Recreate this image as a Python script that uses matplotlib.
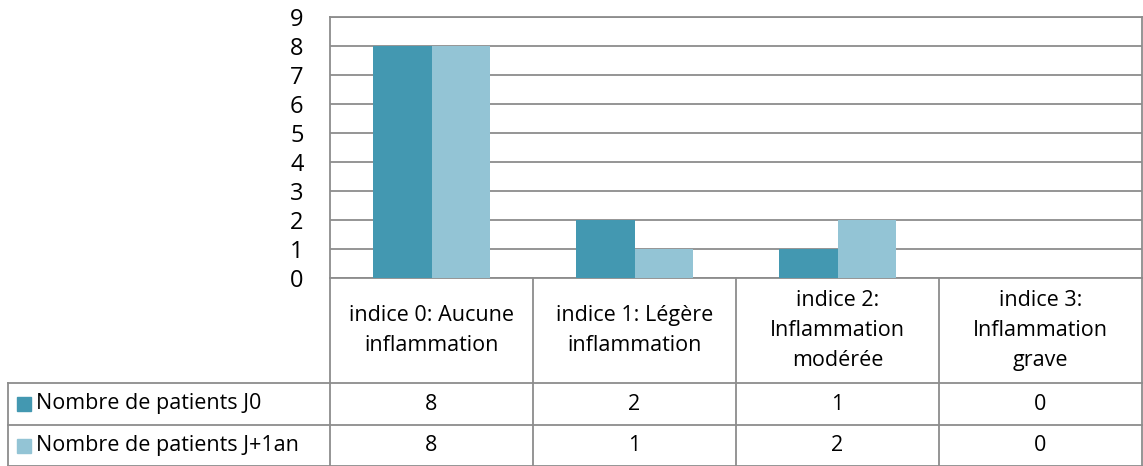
import matplotlib
matplotlib.use("Agg")
import matplotlib.pyplot as plt
from matplotlib import transforms

plt.rcParams["font.family"] = ["Open Sans", "DejaVu Sans"]

# data
categories = [
    "indice 0: Aucune\ninflammation",
    "indice 1: Légère\ninflammation",
    "indice 2:\nInflammation\nmodérée",
    "indice 3:\nInflammation\ngrave",
]
series_names = ["Nombre de patients J0", "Nombre de patients J+1an"]
patients_j0 = [8, 2, 1, 0]
patients_j1an = [8, 1, 2, 0]
series_colors = ["#4398B1", "#93C4D5"]
y_ticks = list(range(0, 10))

W, H = 1143, 466
GRID = "#8C8C8C"
FS = 15.5

fig = plt.figure(figsize=(W / 100, H / 100), dpi=100)


def fy(px):
    # pixel row -> figure fraction
    return 1 - px / H


plot_left, plot_right, plot_top, plot_bottom = 330, 1142, 17, 278
ax = fig.add_axes([plot_left / W, fy(plot_bottom),
                   (plot_right - plot_left) / W, (plot_bottom - plot_top) / H])

n = len(categories)
xs = list(range(n))
bar_w = 0.286
ax.bar([x - bar_w / 2 for x in xs], patients_j0, bar_w, color=series_colors[0], zorder=3)
ax.bar([x + bar_w / 2 for x in xs], patients_j1an, bar_w, color=series_colors[1], zorder=3)

ax.set_xlim(-0.5, n - 0.5)
ax.set_ylim(0, 9)
ax.set_yticks(y_ticks)
ax.set_yticklabels([str(t) for t in y_ticks], fontsize=17)
ax.tick_params(axis="y", length=0, pad=19)
ax.set_xticks([])
ax.yaxis.grid(True, color=GRID, linewidth=1.3, zorder=0)
for s in ax.spines.values():
    s.set_color(GRID)
    s.set_linewidth(1.3)

# data table under the plot: x follows the category axis, y in figure pixels
tr = transforms.blended_transform_factory(ax.transData, fig.transFigure)
tr_fig = fig.transFigure
header_bottom, row1_bottom, row2_bottom = 383, 425, 466
legend_left = 8

line_kw = dict(color=GRID, linewidth=1.3, clip_on=False)
for i in range(n + 1):
    ax.plot([i - 0.5, i - 0.5], [fy(plot_bottom), fy(row2_bottom)], transform=tr, **line_kw)
for yy in (header_bottom, row1_bottom, row2_bottom - 0.5):
    fig.add_artist(plt.Line2D([legend_left / W, plot_right / W], [fy(yy), fy(yy)], **line_kw))
fig.add_artist(plt.Line2D([legend_left / W, legend_left / W],
                          [fy(header_bottom), fy(row2_bottom)], **line_kw))

for x, label in zip(xs, categories):
    ax.text(x, fy((plot_bottom + header_bottom) / 2), label, transform=tr,
            ha="center", va="center", fontsize=FS, linespacing=1.55)

rows = [(header_bottom, row1_bottom, patients_j0), (row1_bottom, row2_bottom, patients_j1an)]
for (top, bottom, values), name, color in zip(rows, series_names, series_colors):
    yc = fy((top + bottom) / 2)
    for x, v in zip(xs, values):
        ax.text(x, yc, str(v), transform=tr, ha="center", va="center", fontsize=FS)
    fig.add_artist(plt.Rectangle((17 / W, yc - 7 / H), 14 / W, 14 / H,
                                 color=color, transform=tr_fig))
    fig.text(36 / W, yc, name, ha="left", va="center", fontsize=FS)

fig.savefig("out.png", dpi=100, facecolor="white")
